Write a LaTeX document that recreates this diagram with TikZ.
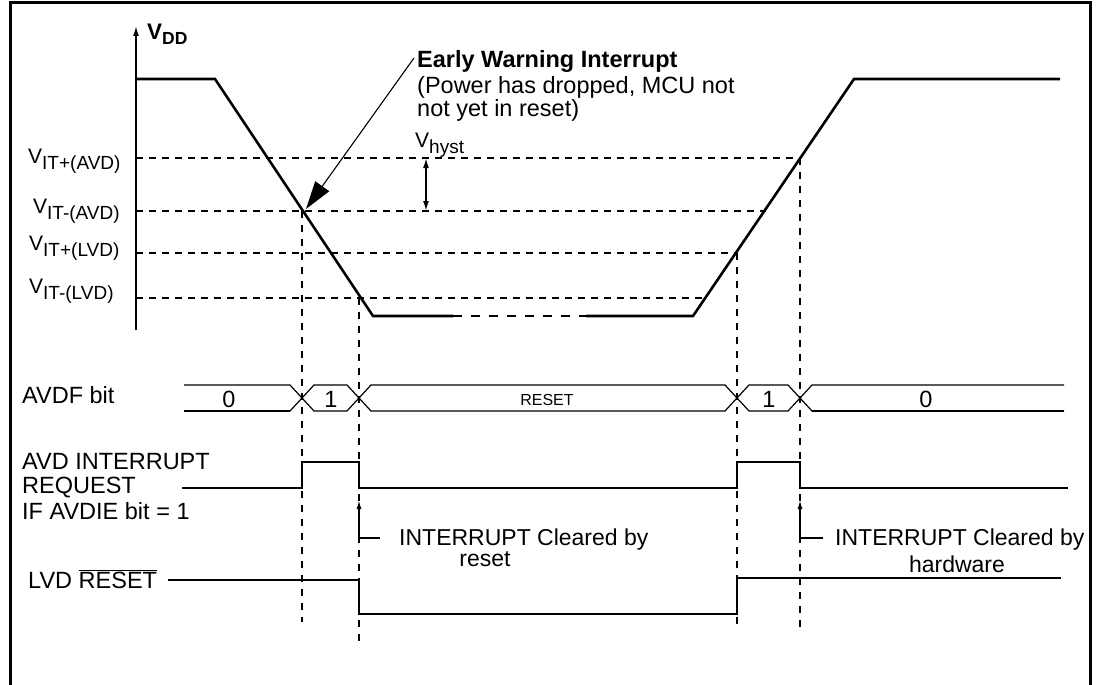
\documentclass[tikz,border=0pt]{standalone}
\usepackage{fontspec}
\setmainfont{Liberation Sans}
\usetikzlibrary{arrows.meta}
\newcommand{\Vs}[1]{V\raisebox{-6pt}{\fontsize{19}{19}\selectfont #1}}
\begin{document}
\begin{tikzpicture}[x=1pt,y=-1pt,
  txt/.style={inner sep=0pt, anchor=base west, font=\fontsize{23.5}{26}\selectfont},
  ctxt/.style={inner sep=0pt, anchor=base, font=\fontsize{23.5}{26}\selectfont},
  ann/.style={inner sep=0pt, anchor=base west, font=\fontsize{23}{26}\selectfont},
  cann/.style={inner sep=0pt, anchor=base, font=\fontsize{23}{26}\selectfont},
  vlbl/.style={inner sep=0pt, anchor=base west, font=\fontsize{21}{24}\selectfont},
  wave/.style={line width=2.6pt, line join=miter},
  sig/.style={line width=2pt},
  bus/.style={line width=1.2pt},
  thr/.style={line width=1.8pt, dash pattern=on 7pt off 6pt},
  vdash/.style={line width=1.8pt, dash pattern=on 7pt off 7pt},
  frame/.style={line width=3pt},
  tip/.style={-{Latex[length=10pt,width=6pt]}}]
\useasboundingbox (0,0) rectangle (1096,685);
% frame
\draw[frame] (10,685) -- (10,3) -- (1090,3) -- (1090,685);
% axis
\coordinate (axbot) at (136,330);
\coordinate (axtop) at (136,26);
\draw[line width=1.6pt, tip] (axbot) -- (axtop);
\node[txt, font=\bfseries\fontsize{22.5}{25}\selectfont] (vdd) at (147,40) {V\raisebox{-5pt}{\fontsize{17.5}{17.5}\selectfont\bfseries DD}};
% VDD waveform
\draw[wave] (136,79) -- (215,79) -- (373,316) -- (453,316);
\draw[wave, dash pattern=on 9pt off 9pt] (453,316) -- (586,316);
\draw[wave] (586,316) -- (693,316) -- (854,79) -- (1060,79);
% thresholds
\draw[thr] (136,158) -- (800,158);
\draw[thr] (136,211) -- (766,211);
\draw[thr] (136,253) -- (737,253);
\draw[thr] (136,298) -- (707,298);
% verticals
\draw[vdash] (302,211) -- (302,622);
\draw[vdash] (359,298) -- (359,643);
\draw[vdash] (737,253) -- (737,628);
\draw[vdash] (800,158) -- (800,628);
% threshold labels
\node[vlbl] (l1) at (28,163) {\Vs{IT+(AVD)}};
\node[vlbl] (l2) at (33,213) {\Vs{IT-(AVD)}};
\node[vlbl] (l3) at (29,250) {\Vs{IT+(LVD)}};
\node[vlbl] (l4) at (29,293) {\Vs{IT-(LVD)}};
% early warning
\node[txt, font=\bfseries\fontsize{23.5}{26}\selectfont] (ewi) at (417,68) {Early Warning Interrupt};
\node[txt] (ewi2) at (417,93) {(Power has dropped, MCU not};
\node[txt] (ewi3) at (417,117) {not yet in reset)};
\node[vlbl] (vh) at (415,147) {\Vs{hyst}};
\coordinate (ewistart) at (414,58);
\coordinate (ewitip) at (306,209);
\draw[line width=1.1pt, -{Triangle[length=28pt,width=17pt]}] (ewistart) -- (ewitip);
\coordinate (hy1) at (426,158);
\coordinate (hy2) at (426,211);
\draw[line width=1.6pt, {Latex[length=10pt,width=6pt]}-{Latex[length=10pt,width=6pt]}] (hy1) -- (hy2);
% AVDF bus
\node[txt] (avdf) at (22,403) {AVDF bit};
\draw[bus] (184,385) -- (290,385) -- (314,411) -- (347,411) -- (371,385) -- (725,385) -- (749,411) -- (788,411) -- (812,385) -- (1064,385);
\draw[bus] (184,411) -- (290,411) -- (314,385) -- (347,385) -- (371,411) -- (725,411) -- (749,385) -- (788,385) -- (812,411) -- (1064,411);
\draw[line width=2.2pt] (184,411) -- (290,411);
\draw[line width=2.2pt] (812,411) -- (1064,411);
\node[ctxt] (b0) at (229,407) {0};
\node[ctxt] (b1) at (331,407) {1};
\node[ctxt, font=\fontsize{16}{18}\selectfont] (br) at (547,405) {RESET};
\node[ctxt] (b2) at (769,407) {1};
\node[ctxt] (b3) at (926,407) {0};
% AVD interrupt request
\node[txt] (ir1) at (22,469) {AVD INTERRUPT};
\node[txt] (ir2) at (22,493) {REQUEST};
\node[txt] (ir3) at (22,519) {IF AVDIE bit = 1};
\draw[sig] (182,488) -- (302,488) -- (302,462) -- (359,462) -- (359,488) -- (737,488) -- (737,462) -- (800,462) -- (800,488) -- (1068,488);
% annotations
\coordinate (a1s) at (380,538);
\coordinate (a1c) at (359,538);
\coordinate (a1t) at (359,500);
\draw[line width=1.5pt, -{Latex[length=9pt,width=5pt]}] (a1s) -- (a1c) -- (a1t);
\node[ann] (c1) at (399,545) {INTERRUPT Cleared by};
\node[cann] (c1b) at (485,566) {reset};
\coordinate (a2s) at (823,538);
\coordinate (a2c) at (800,538);
\coordinate (a2t) at (800,500);
\draw[line width=1.5pt, -{Latex[length=9pt,width=5pt]}] (a2s) -- (a2c) -- (a2t);
\node[ann] (c2) at (835,545) {INTERRUPT Cleared by};
\node[cann] (c2b) at (957,572) {hardware};
% LVD reset
\node[txt] (lvd) at (28,588) {LVD $\overline{\mbox{RESET}}$};
\draw[sig] (168,580) -- (359,580) -- (359,614) -- (737,614) -- (737,578) -- (1061,578);
\end{tikzpicture}
\end{document}
